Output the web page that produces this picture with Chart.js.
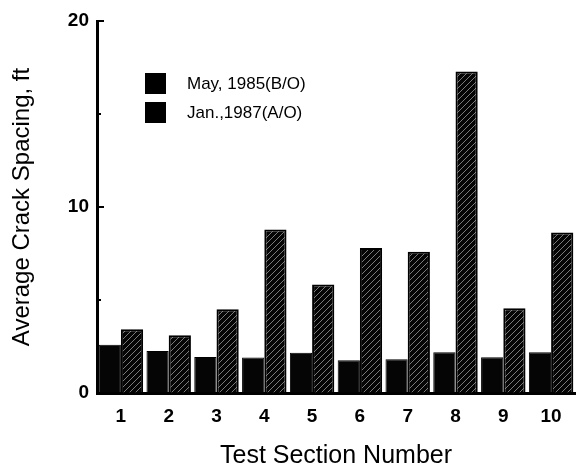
<!DOCTYPE html>
<html>
<head>
<meta charset="utf-8">
<script src="https://cdn.jsdelivr.net/npm/chart.js@4"></script>
<style>
  body { margin: 0; background: #fff; }
  #wrap { width: 577px; height: 469px; }
</style>
</head>
<body>
<div id="wrap"><canvas id="myChart"></canvas></div>
<script>
// x軸
const sections = ['1', '2', '3', '4', '5', '6', '7', '8', '9', '10'];
// 系列
const may1985 = [2.60, 2.26, 1.94, 1.91, 2.17, 1.76, 1.81, 2.19, 1.92, 2.19];
const jan1987 = [3.43, 3.11, 4.50, 8.79, 5.83, 7.80, 7.59, 17.28, 4.56, 8.63];
const seriesNames = ['May, 1985(B/O)', 'Jan.,1987(A/O)'];
const yTickLabels = ['0', '10', '20'];

const FONT = "'Liberation Sans', Arial, Helvetica, sans-serif";

// 斜線ハッチ
function makeHatch() {
    const c = document.createElement('canvas');
    c.width = 6; c.height = 6;
    const g = c.getContext('2d');
    g.fillStyle = '#050505';
    g.fillRect(0, 0, 6, 6);
    g.strokeStyle = '#7a7a7a';
    g.lineWidth = 1;
    g.beginPath();
    g.moveTo(0, 6); g.lineTo(6, 0);
    g.moveTo(-1, 1); g.lineTo(1, -1);
    g.moveTo(5, 7); g.lineTo(7, 5);
    g.stroke();
    return g.createPattern(c, 'repeat');
}

// 内向きの目盛り
const innerTicks = {
    id: 'innerTicks',
    afterDraw(chart) {
        const y = chart.scales.y;
        const ctx = chart.ctx;
        ctx.save();
        ctx.strokeStyle = '#000';
        ctx.lineWidth = 2;
        [5, 10, 15, 20].forEach(v => {
            const py = y.getPixelForValue(v);
            const len = v % 10 === 0 ? 7 : 4;
            ctx.beginPath();
            ctx.moveTo(y.right, py);
            ctx.lineTo(y.right + len, py);
            ctx.stroke();
        });
        ctx.restore();
    }
};

// 凡例（プロット内）
const boxLegend = {
    id: 'boxLegend',
    afterDraw(chart) {
        const ctx = chart.ctx;
        ctx.save();
        ctx.font = '17px ' + FONT;
        ctx.textBaseline = 'middle';
        ctx.fillStyle = '#000';
        chart.data.datasets.forEach((ds, i) => {
            const top = 73 + i * 29;
            ctx.fillRect(145, top, 21, 21);
            ctx.fillText(ds.label, 187, top + 11);
        });
        ctx.restore();
    }
};

const hatch = makeHatch();

const data = {
    labels: sections,
    datasets: [
        {
            label: seriesNames[0],
            data: may1985,
            backgroundColor: '#050505',
            borderColor: '#000',
            borderWidth: 1,
            categoryPercentage: 0.93,
            barPercentage: 1.0
        },
        {
            label: seriesNames[1],
            data: jan1987,
            backgroundColor: hatch,
            borderColor: '#000',
            borderWidth: 2,
            categoryPercentage: 0.93,
            barPercentage: 1.0
        }
    ]
};

const config = {
    type: 'bar',
    data: data,
    options: {
        responsive: true,
        maintainAspectRatio: false,
        animation: false,
        layout: { padding: { top: 21, right: 2, bottom: 0, left: 0 } },
        plugins: {
            legend: { display: false },
            tooltip: { enabled: false }
        },
        scales: {
            x: {
                grid: { drawOnChartArea: false, drawTicks: false },
                border: { color: '#000', width: 3 },
                ticks: {
                    color: '#000',
                    padding: 12,
                    font: { family: FONT, size: 19, weight: 'bold' }
                },
                title: {
                    display: true,
                    text: 'Test Section Number',
                    color: '#000',
                    padding: 0,
                    font: { family: FONT, size: 25, lineHeight: 1 }
                },
                afterFit(scale) { scale.height = 76; }
            },
            y: {
                min: 0,
                max: 20,
                grid: { drawOnChartArea: false, drawTicks: false },
                border: { color: '#000', width: 3 },
                ticks: {
                    stepSize: 5,
                    color: '#000',
                    padding: 8,
                    font: { family: FONT, size: 19, weight: 'bold' },
                    callback: v => (v % 10 === 0 ? yTickLabels[v / 10] : '')
                },
                title: {
                    display: true,
                    text: 'Average Crack Spacing, ft',
                    color: '#000',
                    padding: { top: 10, bottom: 0 },
                    font: { family: FONT, size: 24, lineHeight: 1 }
                },
                afterFit(scale) { scale.width = 97; }
            }
        }
    },
    plugins: [innerTicks, boxLegend]
};

new Chart(document.getElementById('myChart'), config);
</script>
</body>
</html>
